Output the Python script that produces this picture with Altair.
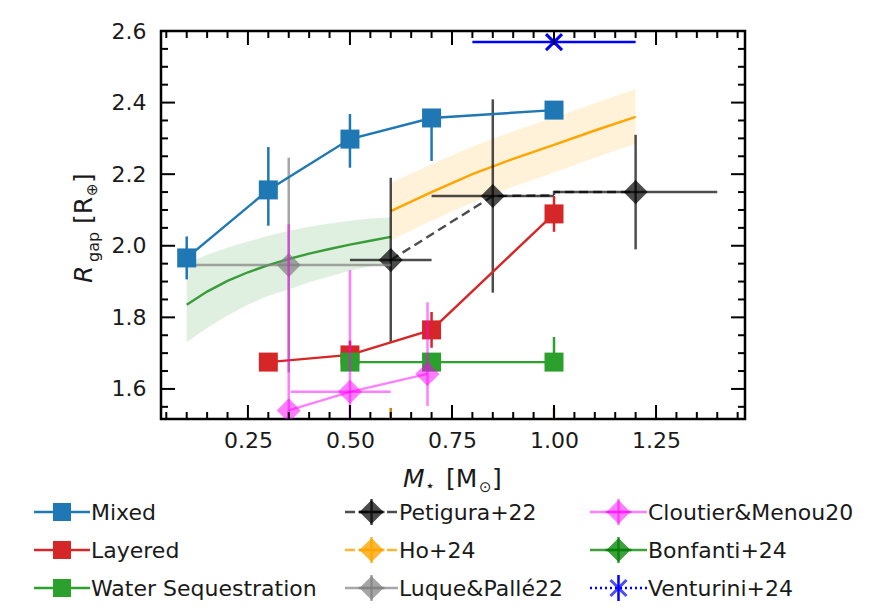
import altair as alt
import pandas as pd

# ---------------- data ----------------
mixed_x = [0.1, 0.3, 0.5, 0.7, 1.0]
mixed_y = [1.966, 2.156, 2.298, 2.357, 2.379]
mixed_err_lo = [0.06, 0.10, 0.08, 0.12, 0.0]
mixed_err_hi = [0.06, 0.12, 0.07, 0.02, 0.0]

layered_x = [0.3, 0.5, 0.7, 1.0]
layered_y = [1.675, 1.695, 1.765, 2.089]
layered_err_lo = [0.0, 0.035, 0.05, 0.05]
layered_err_hi = [0.0, 0.04, 0.05, 0.05]

water_x = [0.5, 0.7, 1.0]
water_y = [1.675, 1.675, 1.675]
water_err_lo = [0.0, 0.0, 0.0]
water_err_hi = [0.0, 0.0, 0.07]

pet_x = [0.6, 0.85, 1.2]
pet_y = [1.960, 2.139, 2.150]
pet_xerr = [0.10, 0.15, 0.20]
pet_yerr = [0.23, 0.27, 0.16]
pet_line_x = [0.6, 0.85, 1.0, 1.0, 1.2]
pet_line_y = [1.960, 2.139, 2.141, 2.150, 2.150]

ho_x = [0.6, 0.7, 0.8, 0.9, 1.0, 1.1, 1.2]
ho_y = [2.097, 2.150, 2.200, 2.243, 2.282, 2.322, 2.360]
ho_lo = [2.015, 2.070, 2.121, 2.165, 2.205, 2.246, 2.285]
ho_hi = [2.175, 2.228, 2.277, 2.320, 2.358, 2.398, 2.438]
ho_floor_x = [0.6, 1.0]
ho_floor_top = [1.547, 1.547]

bon_x = [0.1, 0.15, 0.2, 0.25, 0.3, 0.35, 0.4, 0.45, 0.5, 0.55, 0.6]
bon_y = [1.835, 1.872, 1.902, 1.926, 1.946, 1.963, 1.978, 1.991, 2.003, 2.014, 2.025]
bon_lo = [1.731, 1.770, 1.805, 1.835, 1.860, 1.878, 1.898, 1.914, 1.930, 1.943, 1.955]
bon_hi = [1.952, 1.975, 1.995, 2.012, 2.028, 2.042, 2.053, 2.062, 2.070, 2.076, 2.080]

luque_x = [0.35]
luque_y = [1.946]
luque_xerr = [0.25]
luque_yerr = [0.30]

clou_x = [0.35, 0.5, 0.69]
clou_y = [1.540, 1.592, 1.642]
clou_xerr_lo = [0.0, 0.145, 0.0]
clou_xerr_hi = [0.0, 0.10, 0.0]
clou_err_lo = [0.50, 0.34, 0.09]
clou_err_hi = [0.52, 0.34, 0.20]

ven_x = [1.0]
ven_y = [2.569]
ven_xerr = [0.2]

x_major = [0.25, 0.50, 0.75, 1.00, 1.25]
y_major = [1.6, 1.8, 2.0, 2.2, 2.4, 2.6]

# ---------------- layout / style ----------------
W, H = 584, 388
XS = alt.Scale(domain=[0.037, 1.468], nice=False, zero=False)
YS = alt.Scale(domain=[1.516, 2.6], nice=False, zero=False)
FONT = "DejaVu Sans"
TXT = "#1a1a1a"
BLUE, RED, GREEN = "#1f77b4", "#d62728", "#2ca02c"
LW = 2.4

x_minor = [round(0.05 * i, 2) for i in range(1, 30)]
x_minor = [v for v in x_minor if v not in x_major and 0.037 < v < 1.468]
y_minor = [round(1.55 + 0.05 * i, 2) for i in range(0, 21)]
y_minor = [v for v in y_minor if v not in y_major and 1.516 < v < 2.6]

dummy = pd.DataFrame({"d": [0]})

x_axis = alt.Axis(values=x_major, format=".2f", ticks=False, tickSize=0, domain=False, grid=False,
                  labelFont=FONT, labelFontSize=22, labelColor=TXT, labelPadding=11,
                  labelFlush=False, title=None)
y_axis = alt.Axis(values=y_major, format=".1f", ticks=False, tickSize=0, domain=False, grid=False,
                  labelFont=FONT, labelFontSize=22, labelColor=TXT, labelPadding=15,
                  labelFlush=False, title=None)


def X(f, **kw):
    return alt.X(f, type="quantitative", scale=XS, axis=x_axis, **kw)


def Y(f, **kw):
    return alt.Y(f, type="quantitative", scale=YS, axis=y_axis, **kw)


def vbars(x, y, lo, hi, color, w=2, op=1.0):
    df = pd.DataFrame({"x": x, "a": [yy - l for yy, l in zip(y, lo)],
                       "b": [yy + h for yy, h in zip(y, hi)], "len": [l + h for l, h in zip(lo, hi)]})
    df = df[df["len"] > 0]
    return alt.Chart(df).mark_rule(color=color, strokeWidth=w, opacity=op, clip=True).encode(
        x=X("x"), y=Y("a"), y2="b")


def hbars(x, y, lo, hi, color, w=2, op=1.0):
    df = pd.DataFrame({"y": y, "a": [xx - l for xx, l in zip(x, lo)],
                       "b": [xx + h for xx, h in zip(x, hi)], "len": [l + h for l, h in zip(lo, hi)]})
    df = df[df["len"] > 0]
    return alt.Chart(df).mark_rule(color=color, strokeWidth=w, opacity=op, clip=True).encode(
        y=Y("y"), x=X("a"), x2="b")


def line(x, y, color, w=2, op=1.0, dash=None):
    df = pd.DataFrame({"x": x, "y": y, "i": list(range(len(x)))})
    kw = dict(color=color, strokeWidth=w, opacity=op, clip=True)
    if dash:
        kw["strokeDash"] = dash
    return alt.Chart(df).mark_line(**kw).encode(x=X("x"), y=Y("y"), order=alt.Order("i:Q"))


def pts(x, y, shape, size, fill, stroke=None, sw=0, op=1.0):
    df = pd.DataFrame({"x": x, "y": y})
    kw = dict(shape=shape, size=size, filled=True, fill=fill, opacity=op, clip=True)
    if stroke:
        kw.update(stroke=stroke, strokeWidth=sw)
    else:
        kw.update(strokeWidth=0)
    return alt.Chart(df).mark_point(**kw).encode(x=X("x"), y=Y("y"))


def band(x, lo, hi, color, op):
    df = pd.DataFrame({"x": x, "lo": lo, "hi": hi})
    return alt.Chart(df).mark_area(color=color, opacity=op, clip=True).encode(
        x=X("x"), y=Y("lo"), y2="hi")


layers = []
# model bands and curves
layers.append(band(ho_x, ho_lo, ho_hi, "#ffa500", 0.15))
layers.append(band(bon_x, bon_lo, bon_hi, "#008000", 0.12))
layers.append(line(ho_x, ho_y, "#ffa500", LW))
layers.append(line(bon_x, bon_y, "#008000", LW, 0.75))
# Ho+24 error caps reaching the bottom
layers.append(alt.Chart(pd.DataFrame({"x": ho_floor_x, "t": ho_floor_top})).mark_rule(
    color="#cc8400", strokeWidth=2.5, clip=True).encode(x=X("x"), y=Y("t"), y2=alt.value(H)))

# Petigura+22
PK = "black"
layers.append(line(pet_line_x, pet_line_y, PK, LW, 0.7, [9, 5]))
layers.append(vbars(pet_x, pet_y, pet_yerr, pet_yerr, PK, 2.5, 0.7))
layers.append(hbars(pet_x, pet_y, pet_xerr, pet_xerr, PK, 2.5, 0.7))
layers.append(pts(pet_x, pet_y, "diamond", 484, PK, PK, 1.5, 0.7))

# Luque&Pallé22
layers.append(vbars(luque_x, luque_y, luque_yerr, luque_yerr, "gray", 2.5, 0.7))
layers.append(hbars(luque_x, luque_y, luque_xerr, luque_xerr, "gray", 2.5, 0.7))
layers.append(pts(luque_x, luque_y, "diamond", 484, "gray", "gray", 1.5, 0.7))

# Mixed
layers.append(line(mixed_x, mixed_y, BLUE, LW))
layers.append(vbars(mixed_x, mixed_y, mixed_err_lo, mixed_err_hi, BLUE, 2.5))
layers.append(pts(mixed_x, mixed_y, "square", 361, BLUE))

# Layered
layers.append(line(layered_x, layered_y, RED, LW))
layers.append(vbars(layered_x, layered_y, layered_err_lo, layered_err_hi, RED, 2.5))
layers.append(pts(layered_x, layered_y, "square", 361, RED))

# Water sequestration
layers.append(line(water_x, water_y, GREEN, LW))
layers.append(vbars(water_x, water_y, water_err_lo, water_err_hi, GREEN, 2.5))
layers.append(pts(water_x, water_y, "square", 361, GREEN))

# Cloutier&Menou20
MG = "#ff00ff"
layers.append(line(clou_x, clou_y, MG, LW, 0.5))
layers.append(vbars(clou_x, clou_y, clou_err_lo, clou_err_hi, MG, 2.5, 0.5))
layers.append(hbars(clou_x, clou_y, clou_xerr_lo, clou_xerr_hi, MG, 2.5, 0.5))
layers.append(pts(clou_x, clou_y, "diamond", 484, MG, MG, 1.5, 0.5))

# Venturini+24
XPATH = "M-1,-1L1,1M-1,1L1,-1"
layers.append(hbars(ven_x, ven_y, ven_xerr, ven_xerr, "blue", 2.5))
layers.append(alt.Chart(pd.DataFrame({"x": ven_x, "y": ven_y})).mark_point(
    shape=XPATH, size=256, filled=False, stroke="blue", strokeWidth=3, opacity=1, clip=True).encode(
    x=X("x"), y=Y("y")))

# ---------------- ticks (inward, all four sides) ----------------
xt_major = pd.DataFrame({"v": x_major})
xt_minor = pd.DataFrame({"v": x_minor})
yt_major = pd.DataFrame({"v": y_major})
yt_minor = pd.DataFrame({"v": y_minor})
TK = dict(color="black", strokeWidth=2)

layers.append(alt.Chart(xt_major).mark_rule(**TK).encode(x=X("v"), y=alt.value(H), y2=alt.value(H - 14)))
layers.append(alt.Chart(xt_major).mark_rule(**TK).encode(x=X("v"), y=alt.value(0), y2=alt.value(14)))
layers.append(alt.Chart(xt_minor).mark_rule(**TK).encode(x=X("v"), y=alt.value(H), y2=alt.value(H - 7)))
layers.append(alt.Chart(xt_minor).mark_rule(**TK).encode(x=X("v"), y=alt.value(0), y2=alt.value(7)))
layers.append(alt.Chart(yt_major).mark_rule(**TK).encode(y=Y("v"), x=alt.value(0), x2=alt.value(14)))
layers.append(alt.Chart(yt_major).mark_rule(**TK).encode(y=Y("v"), x=alt.value(W), x2=alt.value(W - 14)))
layers.append(alt.Chart(yt_minor).mark_rule(**TK).encode(y=Y("v"), x=alt.value(0), x2=alt.value(7)))
layers.append(alt.Chart(yt_minor).mark_rule(**TK).encode(y=Y("v"), x=alt.value(W), x2=alt.value(W - 7)))


# ---------------- axis titles (composed text) ----------------
def txt(x, y, s, size=22, style="normal", angle=0):
    kw = dict(text=s, font=FONT, fontSize=size, fontStyle=style, align="left",
              baseline="alphabetic", color=TXT)
    if angle:
        kw["angle"] = angle
    return alt.Chart(dummy).mark_text(**kw).encode(x=alt.value(x), y=alt.value(y))


# x title: M_star [M_sun]
layers += [txt(242, 456, "M", 25, "italic"), txt(264, 460, "\u22c6", 16),
           txt(285, 456, "[M", 25), txt(318, 461, "\u2299", 15), txt(331, 456, "]", 25)]
# y title: R_gap [R_earth]
layers += [txt(-69, 252, "R", 25, "italic", 270), txt(-62, 231, "gap", 16, "normal", 270),
           txt(-69, 193, "[R", 25, "normal", 270), txt(-64, 165, "\u2295", 15, "normal", 270),
           txt(-69, 152, "]", 25, "normal", 270)]


# ---------------- legend ----------------
def vrule(x, y1, y2, color, w, op=1.0, dash=None):
    kw = dict(color=color, strokeWidth=w, opacity=op)
    if dash:
        kw["strokeDash"] = dash
    return alt.Chart(dummy).mark_rule(**kw).encode(x=alt.value(x), y=alt.value(y1), y2=alt.value(y2))


def hrule(x1, x2, y, color, w, op=1.0, dash=None):
    kw = dict(color=color, strokeWidth=w, opacity=op)
    if dash:
        kw["strokeDash"] = dash
    return alt.Chart(dummy).mark_rule(**kw).encode(x=alt.value(x1), x2=alt.value(x2), y=alt.value(y))


def sym(x, y, shape, size, fill, stroke=None, sw=0, op=1.0):
    kw = dict(shape=shape, size=size, filled=True, fill=fill, opacity=op)
    if stroke:
        kw.update(stroke=stroke, strokeWidth=sw)
    else:
        kw.update(strokeWidth=0)
    return alt.Chart(dummy).mark_point(**kw).encode(x=alt.value(x), y=alt.value(y))


legend_names = ["Mixed", "Layered", "Water Sequestration",
                "Petigura+22", "Ho+24", "Luque&Pallé22",
                "Cloutier&Menou20", "Bonfanti+24", "Venturini+24"]
legend_styles = [
    (BLUE, 1.0, None, "square"), (RED, 1.0, None, "square"), (GREEN, 1.0, None, "square"),
    ("black", 0.7, [10, 4], "diamond"), ("#ffa500", 0.8, [10, 4], "diamond"), ("gray", 0.7, None, "diamond"),
    (MG, 0.5, None, "diamond"), ("#008000", 0.75, None, "diamond"), ("blue", 1.0, [2, 3], "x"),
]
col_x = [(-127, -71), (184, 237), (429, 486)]
row_y = [481, 519, 557]

for k, (name, (color, op, dash, kind)) in enumerate(zip(legend_names, legend_styles)):
    c, r = k // 3, k % 3
    x1, x2 = col_x[c]
    cx, cy = (x1 + x2) / 2, row_y[r]
    layers.append(hrule(x1, x2, cy, color, 2.5, op, dash))
    if kind == "square":
        layers.append(vrule(cx, cy - 9, cy + 9, color, 2.5, op))
        layers.append(sym(cx, cy, "square", 324, color, None, 0, op))
    elif kind == "diamond":
        layers.append(vrule(cx, cy - 13, cy + 13, color, 2.5, op))
        layers.append(hrule(cx - 13, cx + 13, cy, color, 2.5, op))
        layers.append(sym(cx, cy, "diamond", 484, color, color, 1.5, op))
    else:
        layers.append(vrule(cx, cy - 13, cy + 13, color, 2.5, op))
        layers.append(alt.Chart(dummy).mark_point(shape=XPATH, size=256, filled=False, stroke=color,
                                                  strokeWidth=3).encode(x=alt.value(cx), y=alt.value(cy)))
    layers.append(txt(x2 + 1, cy + 8, name))

chart = alt.layer(*layers).properties(
    width=W, height=H,
    padding={"left": 153, "top": 23, "right": 131, "bottom": 184},
    autosize=alt.AutoSizeParams(type="none"),
    background="white",
).configure_view(stroke="black", strokeWidth=2.5)

chart.save("out.html", embed_options={"renderer": "svg", "actions": False})
